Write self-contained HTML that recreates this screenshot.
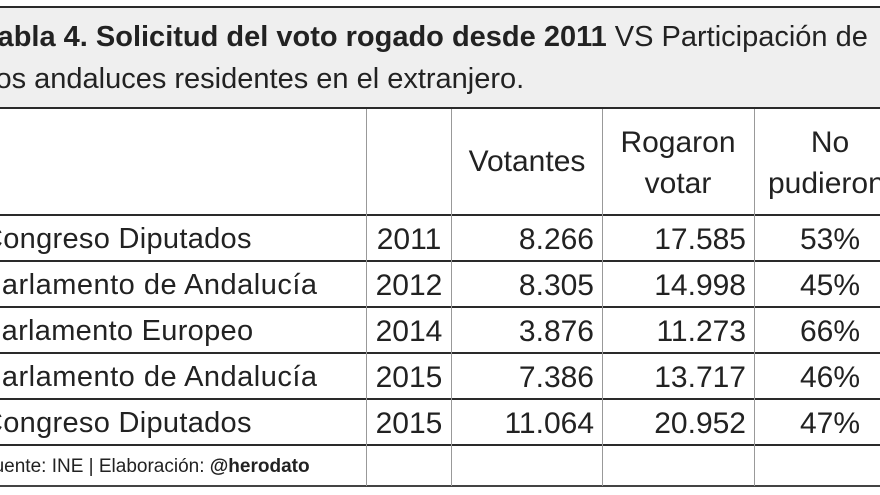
<!DOCTYPE html>
<html><head><meta charset="utf-8"><style>
body{margin:0;width:880px;height:495px;overflow:hidden;background:#fff;font-family:"Liberation Sans",sans-serif;color:#222;position:relative}
.a{position:absolute;white-space:nowrap;line-height:1}
.h{position:absolute;left:0;width:880px;background:#2a2a2a}
.v{position:absolute;width:1px;background:#999}
.t{font-size:29px}
.n{font-size:30px}
.k{font-size:30px}
</style></head><body>
<div style="position:absolute;left:0;top:6px;width:880px;height:102px;background:#efefef"></div>
<div class="h" style="top:6px;height:2px"></div>
<div class="h" style="top:107px;height:2px"></div>
<div class="h" style="top:214px;height:2px"></div>
<div class="h" style="top:260px;height:2px"></div>
<div class="h" style="top:306px;height:2px"></div>
<div class="h" style="top:352px;height:2px"></div>
<div class="h" style="top:398px;height:2px"></div>
<div class="h" style="top:444px;height:2px"></div>
<div class="h" style="top:485px;height:2px;background:#444"></div>
<div class="v" style="left:366px;top:109px;height:377px"></div>
<div class="v" style="left:451px;top:109px;height:377px"></div>
<div class="v" style="left:602px;top:109px;height:377px"></div>
<div class="v" style="left:754px;top:109px;height:377px"></div>
<div class="a" style="left:-18px;top:23px;font-size:29px"><b>Tabla 4. Solicitud del voto rogado desde 2011</b> VS Participación de</div>
<div class="a" style="left:-11px;top:65px;font-size:29px">los andaluces residentes en el extranjero.</div>
<div class="a k" style="left:527px;top:147px;transform:translateX(-50%)">Votantes</div>
<div class="a k" style="left:678px;top:128px;transform:translateX(-50%)">Rogaron</div>
<div class="a k" style="left:678px;top:169px;transform:translateX(-50%)">votar</div>
<div class="a k" style="left:830px;top:128px;transform:translateX(-50%)">No</div>
<div class="a k" style="left:768px;top:169px">pudieron</div>
<div class="a t" style="left:-18px;top:225px;letter-spacing:0.3px">Congreso Diputados</div>
<div class="a t" style="left:-18px;top:271px;letter-spacing:0.5px">Parlamento de Andalucía</div>
<div class="a t" style="left:-18px;top:317px;letter-spacing:0.3px">Parlamento Europeo</div>
<div class="a t" style="left:-18px;top:363px;letter-spacing:0.5px">Parlamento de Andalucía</div>
<div class="a t" style="left:-18px;top:409px;letter-spacing:0.3px">Congreso Diputados</div>
<div class="a n" style="left:409px;top:225px;transform:translateX(-50%)">2011</div>
<div class="a n" style="left:409px;top:271px;transform:translateX(-50%)">2012</div>
<div class="a n" style="left:409px;top:317px;transform:translateX(-50%)">2014</div>
<div class="a n" style="left:409px;top:363px;transform:translateX(-50%)">2015</div>
<div class="a n" style="left:409px;top:409px;transform:translateX(-50%)">2015</div>
<div class="a n" style="right:286px;top:225px">8.266</div>
<div class="a n" style="right:286px;top:271px">8.305</div>
<div class="a n" style="right:286px;top:317px">3.876</div>
<div class="a n" style="right:286px;top:363px">7.386</div>
<div class="a n" style="right:286px;top:409px">11.064</div>
<div class="a n" style="right:134px;top:225px">17.585</div>
<div class="a n" style="right:134px;top:271px">14.998</div>
<div class="a n" style="right:134px;top:317px">11.273</div>
<div class="a n" style="right:134px;top:363px">13.717</div>
<div class="a n" style="right:134px;top:409px">20.952</div>
<div class="a n" style="left:830px;top:225px;transform:translateX(-50%)">53%</div>
<div class="a n" style="left:830px;top:271px;transform:translateX(-50%)">45%</div>
<div class="a n" style="left:830px;top:317px;transform:translateX(-50%)">66%</div>
<div class="a n" style="left:830px;top:363px;transform:translateX(-50%)">46%</div>
<div class="a n" style="left:830px;top:409px;transform:translateX(-50%)">47%</div>
<div class="a" style="left:-18px;top:457px;font-size:19px">Fuente: INE | Elaboración: <b>@herodato</b></div>
</body></html>
